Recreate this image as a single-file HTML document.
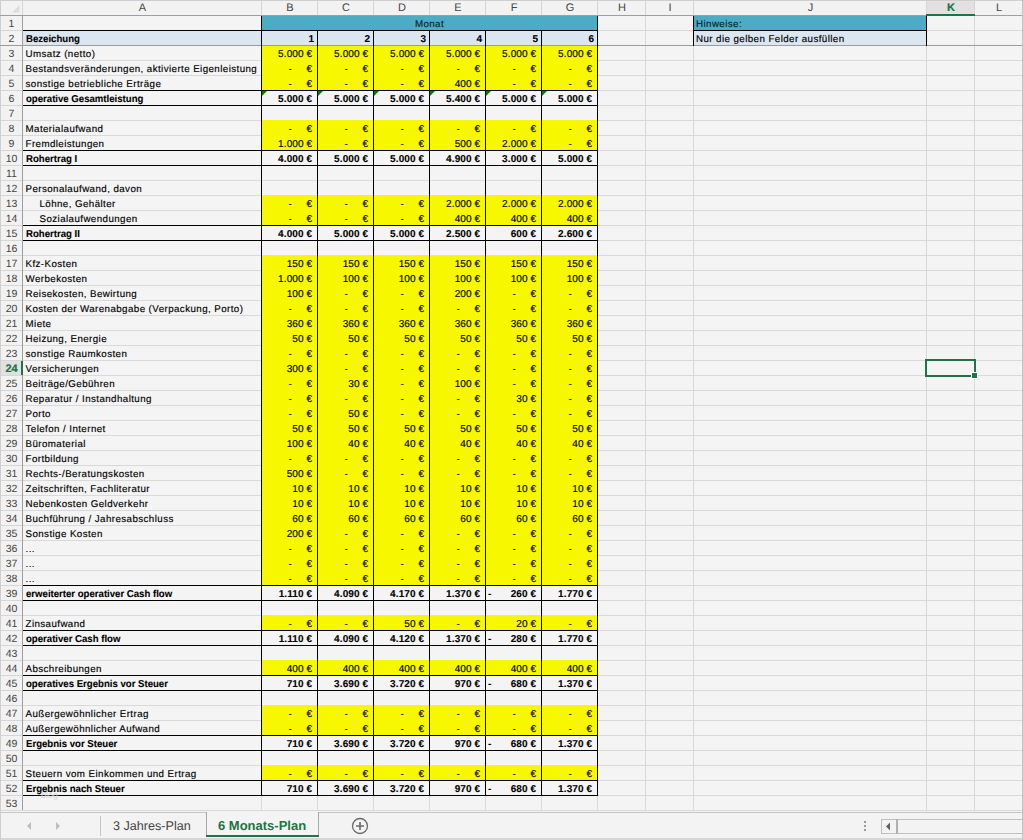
<!DOCTYPE html>
<html><head><meta charset="utf-8"><style>
html,body{margin:0;padding:0;width:1023px;height:840px;overflow:hidden;background:#f4f4f4}
div,span,svg{position:absolute}
span{white-space:nowrap;text-rendering:geometricPrecision;font-family:"Liberation Sans",sans-serif;line-height:15px;height:15px;color:#000}
.l,.n,.navy,.c{-webkit-text-stroke:0.15px currentColor}
.b{-webkit-text-stroke:0.1px currentColor}
.l{font-size:9.75px;letter-spacing:0.42px}
.l.b{font-size:10px;letter-spacing:0;font-weight:bold;transform:scaleX(0.96);transform-origin:0 0}
.n{font-size:10px;letter-spacing:0.1px}
.n.b{font-weight:bold}
.navy{color:#0b2333;font-size:9.75px;letter-spacing:0.42px}
.c{font-size:9.75px;letter-spacing:0.42px}
.hd{font-size:11px;color:#444;text-align:center;line-height:14px}
.rh{font-size:10.5px;color:#444;text-align:center;line-height:14px}
.sel{color:#217346;font-weight:bold;-webkit-text-stroke:0.2px #217346}
.rh.sel{font-size:11px}
.tab{font-size:12.6px;color:#444;line-height:22px;height:22px}
.tab.act{color:#217346;font-weight:bold;font-size:13px}
</style></head><body>
<div style="left:0px;top:0px;width:1023px;height:840px;background:#f4f4f4;"></div>
<div style="left:0px;top:0px;width:1023px;height:15px;background:#f2f2f2;"></div>
<div style="left:0px;top:0px;width:22px;height:810px;background:#f2f2f2;"></div>
<div style="left:0px;top:0px;width:1023px;height:1px;background:#cfcfcf;"></div>
<div style="left:0px;top:0px;width:1px;height:810px;background:#cfcfcf;"></div>
<div style="left:22px;top:30px;width:1000px;height:1px;background:#d9d9d9;"></div>
<div style="left:22px;top:45px;width:1000px;height:1px;background:#d9d9d9;"></div>
<div style="left:22px;top:60px;width:1000px;height:1px;background:#d9d9d9;"></div>
<div style="left:22px;top:75px;width:1000px;height:1px;background:#d9d9d9;"></div>
<div style="left:22px;top:90px;width:1000px;height:1px;background:#d9d9d9;"></div>
<div style="left:22px;top:105px;width:1000px;height:1px;background:#d9d9d9;"></div>
<div style="left:22px;top:120px;width:1000px;height:1px;background:#d9d9d9;"></div>
<div style="left:22px;top:135px;width:1000px;height:1px;background:#d9d9d9;"></div>
<div style="left:22px;top:150px;width:1000px;height:1px;background:#d9d9d9;"></div>
<div style="left:22px;top:165px;width:1000px;height:1px;background:#d9d9d9;"></div>
<div style="left:22px;top:180px;width:1000px;height:1px;background:#d9d9d9;"></div>
<div style="left:22px;top:195px;width:1000px;height:1px;background:#d9d9d9;"></div>
<div style="left:22px;top:210px;width:1000px;height:1px;background:#d9d9d9;"></div>
<div style="left:22px;top:225px;width:1000px;height:1px;background:#d9d9d9;"></div>
<div style="left:22px;top:240px;width:1000px;height:1px;background:#d9d9d9;"></div>
<div style="left:22px;top:255px;width:1000px;height:1px;background:#d9d9d9;"></div>
<div style="left:22px;top:270px;width:1000px;height:1px;background:#d9d9d9;"></div>
<div style="left:22px;top:285px;width:1000px;height:1px;background:#d9d9d9;"></div>
<div style="left:22px;top:300px;width:1000px;height:1px;background:#d9d9d9;"></div>
<div style="left:22px;top:315px;width:1000px;height:1px;background:#d9d9d9;"></div>
<div style="left:22px;top:330px;width:1000px;height:1px;background:#d9d9d9;"></div>
<div style="left:22px;top:345px;width:1000px;height:1px;background:#d9d9d9;"></div>
<div style="left:22px;top:360px;width:1000px;height:1px;background:#d9d9d9;"></div>
<div style="left:22px;top:375px;width:1000px;height:1px;background:#d9d9d9;"></div>
<div style="left:22px;top:390px;width:1000px;height:1px;background:#d9d9d9;"></div>
<div style="left:22px;top:405px;width:1000px;height:1px;background:#d9d9d9;"></div>
<div style="left:22px;top:420px;width:1000px;height:1px;background:#d9d9d9;"></div>
<div style="left:22px;top:435px;width:1000px;height:1px;background:#d9d9d9;"></div>
<div style="left:22px;top:450px;width:1000px;height:1px;background:#d9d9d9;"></div>
<div style="left:22px;top:465px;width:1000px;height:1px;background:#d9d9d9;"></div>
<div style="left:22px;top:480px;width:1000px;height:1px;background:#d9d9d9;"></div>
<div style="left:22px;top:495px;width:1000px;height:1px;background:#d9d9d9;"></div>
<div style="left:22px;top:510px;width:1000px;height:1px;background:#d9d9d9;"></div>
<div style="left:22px;top:525px;width:1000px;height:1px;background:#d9d9d9;"></div>
<div style="left:22px;top:540px;width:1000px;height:1px;background:#d9d9d9;"></div>
<div style="left:22px;top:555px;width:1000px;height:1px;background:#d9d9d9;"></div>
<div style="left:22px;top:570px;width:1000px;height:1px;background:#d9d9d9;"></div>
<div style="left:22px;top:585px;width:1000px;height:1px;background:#d9d9d9;"></div>
<div style="left:22px;top:600px;width:1000px;height:1px;background:#d9d9d9;"></div>
<div style="left:22px;top:615px;width:1000px;height:1px;background:#d9d9d9;"></div>
<div style="left:22px;top:630px;width:1000px;height:1px;background:#d9d9d9;"></div>
<div style="left:22px;top:645px;width:1000px;height:1px;background:#d9d9d9;"></div>
<div style="left:22px;top:660px;width:1000px;height:1px;background:#d9d9d9;"></div>
<div style="left:22px;top:675px;width:1000px;height:1px;background:#d9d9d9;"></div>
<div style="left:22px;top:690px;width:1000px;height:1px;background:#d9d9d9;"></div>
<div style="left:22px;top:705px;width:1000px;height:1px;background:#d9d9d9;"></div>
<div style="left:22px;top:720px;width:1000px;height:1px;background:#d9d9d9;"></div>
<div style="left:22px;top:735px;width:1000px;height:1px;background:#d9d9d9;"></div>
<div style="left:22px;top:750px;width:1000px;height:1px;background:#d9d9d9;"></div>
<div style="left:22px;top:765px;width:1000px;height:1px;background:#d9d9d9;"></div>
<div style="left:22px;top:780px;width:1000px;height:1px;background:#d9d9d9;"></div>
<div style="left:22px;top:795px;width:1000px;height:1px;background:#d9d9d9;"></div>
<div style="left:22px;top:810px;width:1000px;height:1px;background:#d9d9d9;"></div>
<div style="left:261px;top:15px;width:1px;height:795px;background:#d9d9d9;"></div>
<div style="left:317px;top:15px;width:1px;height:795px;background:#d9d9d9;"></div>
<div style="left:373px;top:15px;width:1px;height:795px;background:#d9d9d9;"></div>
<div style="left:429px;top:15px;width:1px;height:795px;background:#d9d9d9;"></div>
<div style="left:485px;top:15px;width:1px;height:795px;background:#d9d9d9;"></div>
<div style="left:541px;top:15px;width:1px;height:795px;background:#d9d9d9;"></div>
<div style="left:597px;top:15px;width:1px;height:795px;background:#d9d9d9;"></div>
<div style="left:645px;top:15px;width:1px;height:795px;background:#d9d9d9;"></div>
<div style="left:693px;top:15px;width:1px;height:795px;background:#d9d9d9;"></div>
<div style="left:926px;top:15px;width:1px;height:795px;background:#d9d9d9;"></div>
<div style="left:974px;top:15px;width:1px;height:795px;background:#d9d9d9;"></div>
<div style="left:262px;top:16px;width:335px;height:14px;background:#4bacc6;"></div>
<div style="left:694px;top:16px;width:232px;height:14px;background:#4bacc6;"></div>
<div style="left:23px;top:31px;width:574px;height:14px;background:#dce6f1;"></div>
<div style="left:694px;top:31px;width:232px;height:14px;background:#dce6f1;"></div>
<div style="left:262px;top:45px;width:335px;height:15px;background:#f7f700;"></div>
<div style="left:262px;top:60px;width:335px;height:15px;background:#f7f700;"></div>
<div style="left:262px;top:75px;width:335px;height:15px;background:#f7f700;"></div>
<div style="left:262px;top:120px;width:335px;height:15px;background:#f7f700;"></div>
<div style="left:262px;top:135px;width:335px;height:15px;background:#f7f700;"></div>
<div style="left:262px;top:195px;width:335px;height:15px;background:#f7f700;"></div>
<div style="left:262px;top:210px;width:335px;height:15px;background:#f7f700;"></div>
<div style="left:262px;top:255px;width:335px;height:15px;background:#f7f700;"></div>
<div style="left:262px;top:270px;width:335px;height:15px;background:#f7f700;"></div>
<div style="left:262px;top:285px;width:335px;height:15px;background:#f7f700;"></div>
<div style="left:262px;top:300px;width:335px;height:15px;background:#f7f700;"></div>
<div style="left:262px;top:315px;width:335px;height:15px;background:#f7f700;"></div>
<div style="left:262px;top:330px;width:335px;height:15px;background:#f7f700;"></div>
<div style="left:262px;top:345px;width:335px;height:15px;background:#f7f700;"></div>
<div style="left:262px;top:360px;width:335px;height:15px;background:#f7f700;"></div>
<div style="left:262px;top:375px;width:335px;height:15px;background:#f7f700;"></div>
<div style="left:262px;top:390px;width:335px;height:15px;background:#f7f700;"></div>
<div style="left:262px;top:405px;width:335px;height:15px;background:#f7f700;"></div>
<div style="left:262px;top:420px;width:335px;height:15px;background:#f7f700;"></div>
<div style="left:262px;top:435px;width:335px;height:15px;background:#f7f700;"></div>
<div style="left:262px;top:450px;width:335px;height:15px;background:#f7f700;"></div>
<div style="left:262px;top:465px;width:335px;height:15px;background:#f7f700;"></div>
<div style="left:262px;top:480px;width:335px;height:15px;background:#f7f700;"></div>
<div style="left:262px;top:495px;width:335px;height:15px;background:#f7f700;"></div>
<div style="left:262px;top:510px;width:335px;height:15px;background:#f7f700;"></div>
<div style="left:262px;top:525px;width:335px;height:15px;background:#f7f700;"></div>
<div style="left:262px;top:540px;width:335px;height:15px;background:#f7f700;"></div>
<div style="left:262px;top:555px;width:335px;height:15px;background:#f7f700;"></div>
<div style="left:262px;top:570px;width:335px;height:15px;background:#f7f700;"></div>
<div style="left:262px;top:615px;width:335px;height:15px;background:#f7f700;"></div>
<div style="left:262px;top:660px;width:335px;height:15px;background:#f7f700;"></div>
<div style="left:262px;top:705px;width:335px;height:15px;background:#f7f700;"></div>
<div style="left:262px;top:720px;width:335px;height:15px;background:#f7f700;"></div>
<div style="left:262px;top:765px;width:335px;height:15px;background:#f7f700;"></div>
<div style="left:0px;top:45px;width:1022px;height:1px;background:#9c9c9c;"></div>
<div style="left:261px;top:16px;width:1px;height:780px;background:#000;"></div>
<div style="left:317px;top:31px;width:1px;height:765px;background:#000;"></div>
<div style="left:373px;top:31px;width:1px;height:765px;background:#000;"></div>
<div style="left:429px;top:31px;width:1px;height:765px;background:#000;"></div>
<div style="left:485px;top:31px;width:1px;height:765px;background:#000;"></div>
<div style="left:541px;top:31px;width:1px;height:765px;background:#000;"></div>
<div style="left:597px;top:16px;width:1px;height:780px;background:#000;"></div>
<div style="left:693px;top:16px;width:1px;height:30px;background:#000;"></div>
<div style="left:926px;top:16px;width:1px;height:30px;background:#000;"></div>
<div style="left:693px;top:30px;width:234px;height:1px;background:#000;"></div>
<div style="left:22px;top:30px;width:576px;height:1px;background:#000;"></div>
<div style="left:22px;top:90px;width:576px;height:1px;background:#000;"></div>
<div style="left:22px;top:105px;width:576px;height:1px;background:#000;"></div>
<div style="left:22px;top:150px;width:576px;height:1px;background:#000;"></div>
<div style="left:22px;top:165px;width:576px;height:1px;background:#000;"></div>
<div style="left:22px;top:225px;width:576px;height:1px;background:#000;"></div>
<div style="left:22px;top:240px;width:576px;height:1px;background:#000;"></div>
<div style="left:22px;top:585px;width:576px;height:1px;background:#000;"></div>
<div style="left:22px;top:600px;width:576px;height:1px;background:#000;"></div>
<div style="left:22px;top:630px;width:576px;height:1px;background:#000;"></div>
<div style="left:22px;top:645px;width:576px;height:1px;background:#000;"></div>
<div style="left:22px;top:675px;width:576px;height:1px;background:#000;"></div>
<div style="left:22px;top:690px;width:576px;height:1px;background:#000;"></div>
<div style="left:22px;top:735px;width:576px;height:1px;background:#000;"></div>
<div style="left:22px;top:750px;width:576px;height:1px;background:#000;"></div>
<div style="left:22px;top:780px;width:576px;height:1px;background:#000;"></div>
<div style="left:22px;top:795px;width:576px;height:1px;background:#000;"></div>
<span class="hd" style="left:23px;top:1px;width:239px">A</span>
<div style="left:261px;top:1px;width:1px;height:14px;background:#d6d6d6;"></div>
<span class="hd" style="left:262px;top:1px;width:56px">B</span>
<div style="left:317px;top:1px;width:1px;height:14px;background:#d6d6d6;"></div>
<span class="hd" style="left:318px;top:1px;width:56px">C</span>
<div style="left:373px;top:1px;width:1px;height:14px;background:#d6d6d6;"></div>
<span class="hd" style="left:374px;top:1px;width:56px">D</span>
<div style="left:429px;top:1px;width:1px;height:14px;background:#d6d6d6;"></div>
<span class="hd" style="left:430px;top:1px;width:56px">E</span>
<div style="left:485px;top:1px;width:1px;height:14px;background:#d6d6d6;"></div>
<span class="hd" style="left:486px;top:1px;width:56px">F</span>
<div style="left:541px;top:1px;width:1px;height:14px;background:#d6d6d6;"></div>
<span class="hd" style="left:542px;top:1px;width:56px">G</span>
<div style="left:597px;top:1px;width:1px;height:14px;background:#d6d6d6;"></div>
<span class="hd" style="left:598px;top:1px;width:48px">H</span>
<div style="left:645px;top:1px;width:1px;height:14px;background:#d6d6d6;"></div>
<span class="hd" style="left:646px;top:1px;width:48px">I</span>
<div style="left:693px;top:1px;width:1px;height:14px;background:#d6d6d6;"></div>
<span class="hd" style="left:694px;top:1px;width:233px">J</span>
<div style="left:926px;top:1px;width:1px;height:14px;background:#d6d6d6;"></div>
<div style="left:927px;top:1px;width:47px;height:14px;background:#e1e1e1;"></div>
<div style="left:926px;top:14px;width:49px;height:2px;background:#217346;"></div>
<span class="hd sel" style="left:927px;top:1px;width:48px">K</span>
<div style="left:974px;top:1px;width:1px;height:14px;background:#d6d6d6;"></div>
<span class="hd" style="left:975px;top:1px;width:48px">L</span>
<div style="left:1022px;top:1px;width:1px;height:14px;background:#d6d6d6;"></div>
<svg style="position:absolute;left:0;top:0" width="22" height="15"><polygon points="19.5,5 19.5,12.5 12,12.5" fill="#dcdcdc"/></svg>
<div style="left:0px;top:15px;width:1022px;height:1px;background:#9e9e9e;"></div>
<div style="left:22px;top:15px;width:1px;height:795px;background:#9e9e9e;"></div>
<div style="left:926px;top:14px;width:49px;height:2px;background:#217346;"></div>
<div style="left:22px;top:1px;width:1px;height:14px;background:#d6d6d6;"></div>
<div style="left:1px;top:30px;width:21px;height:1px;background:#d6d6d6;"></div>
<span class="rh" style="left:1px;top:17px;width:21px">1</span>
<span class="rh" style="left:1px;top:32px;width:21px">2</span>
<div style="left:1px;top:60px;width:21px;height:1px;background:#d6d6d6;"></div>
<span class="rh" style="left:1px;top:47px;width:21px">3</span>
<div style="left:1px;top:75px;width:21px;height:1px;background:#d6d6d6;"></div>
<span class="rh" style="left:1px;top:62px;width:21px">4</span>
<div style="left:1px;top:90px;width:21px;height:1px;background:#d6d6d6;"></div>
<span class="rh" style="left:1px;top:77px;width:21px">5</span>
<div style="left:1px;top:105px;width:21px;height:1px;background:#d6d6d6;"></div>
<span class="rh" style="left:1px;top:92px;width:21px">6</span>
<div style="left:1px;top:120px;width:21px;height:1px;background:#d6d6d6;"></div>
<span class="rh" style="left:1px;top:107px;width:21px">7</span>
<div style="left:1px;top:135px;width:21px;height:1px;background:#d6d6d6;"></div>
<span class="rh" style="left:1px;top:122px;width:21px">8</span>
<div style="left:1px;top:150px;width:21px;height:1px;background:#d6d6d6;"></div>
<span class="rh" style="left:1px;top:137px;width:21px">9</span>
<div style="left:1px;top:165px;width:21px;height:1px;background:#d6d6d6;"></div>
<span class="rh" style="left:1px;top:152px;width:21px">10</span>
<div style="left:1px;top:180px;width:21px;height:1px;background:#d6d6d6;"></div>
<span class="rh" style="left:1px;top:167px;width:21px">11</span>
<div style="left:1px;top:195px;width:21px;height:1px;background:#d6d6d6;"></div>
<span class="rh" style="left:1px;top:182px;width:21px">12</span>
<div style="left:1px;top:210px;width:21px;height:1px;background:#d6d6d6;"></div>
<span class="rh" style="left:1px;top:197px;width:21px">13</span>
<div style="left:1px;top:225px;width:21px;height:1px;background:#d6d6d6;"></div>
<span class="rh" style="left:1px;top:212px;width:21px">14</span>
<div style="left:1px;top:240px;width:21px;height:1px;background:#d6d6d6;"></div>
<span class="rh" style="left:1px;top:227px;width:21px">15</span>
<div style="left:1px;top:255px;width:21px;height:1px;background:#d6d6d6;"></div>
<span class="rh" style="left:1px;top:242px;width:21px">16</span>
<div style="left:1px;top:270px;width:21px;height:1px;background:#d6d6d6;"></div>
<span class="rh" style="left:1px;top:257px;width:21px">17</span>
<div style="left:1px;top:285px;width:21px;height:1px;background:#d6d6d6;"></div>
<span class="rh" style="left:1px;top:272px;width:21px">18</span>
<div style="left:1px;top:300px;width:21px;height:1px;background:#d6d6d6;"></div>
<span class="rh" style="left:1px;top:287px;width:21px">19</span>
<div style="left:1px;top:315px;width:21px;height:1px;background:#d6d6d6;"></div>
<span class="rh" style="left:1px;top:302px;width:21px">20</span>
<div style="left:1px;top:330px;width:21px;height:1px;background:#d6d6d6;"></div>
<span class="rh" style="left:1px;top:317px;width:21px">21</span>
<div style="left:1px;top:345px;width:21px;height:1px;background:#d6d6d6;"></div>
<span class="rh" style="left:1px;top:332px;width:21px">22</span>
<div style="left:1px;top:360px;width:21px;height:1px;background:#d6d6d6;"></div>
<span class="rh" style="left:1px;top:347px;width:21px">23</span>
<div style="left:1px;top:375px;width:21px;height:1px;background:#d6d6d6;"></div>
<div style="left:1px;top:361px;width:21px;height:14px;background:#e1e1e1;"></div>
<div style="left:21px;top:361px;width:2px;height:14px;background:#217346;"></div>
<span class="rh sel" style="left:0.5px;top:362px;width:22px">24</span>
<div style="left:1px;top:390px;width:21px;height:1px;background:#d6d6d6;"></div>
<span class="rh" style="left:1px;top:377px;width:21px">25</span>
<div style="left:1px;top:405px;width:21px;height:1px;background:#d6d6d6;"></div>
<span class="rh" style="left:1px;top:392px;width:21px">26</span>
<div style="left:1px;top:420px;width:21px;height:1px;background:#d6d6d6;"></div>
<span class="rh" style="left:1px;top:407px;width:21px">27</span>
<div style="left:1px;top:435px;width:21px;height:1px;background:#d6d6d6;"></div>
<span class="rh" style="left:1px;top:422px;width:21px">28</span>
<div style="left:1px;top:450px;width:21px;height:1px;background:#d6d6d6;"></div>
<span class="rh" style="left:1px;top:437px;width:21px">29</span>
<div style="left:1px;top:465px;width:21px;height:1px;background:#d6d6d6;"></div>
<span class="rh" style="left:1px;top:452px;width:21px">30</span>
<div style="left:1px;top:480px;width:21px;height:1px;background:#d6d6d6;"></div>
<span class="rh" style="left:1px;top:467px;width:21px">31</span>
<div style="left:1px;top:495px;width:21px;height:1px;background:#d6d6d6;"></div>
<span class="rh" style="left:1px;top:482px;width:21px">32</span>
<div style="left:1px;top:510px;width:21px;height:1px;background:#d6d6d6;"></div>
<span class="rh" style="left:1px;top:497px;width:21px">33</span>
<div style="left:1px;top:525px;width:21px;height:1px;background:#d6d6d6;"></div>
<span class="rh" style="left:1px;top:512px;width:21px">34</span>
<div style="left:1px;top:540px;width:21px;height:1px;background:#d6d6d6;"></div>
<span class="rh" style="left:1px;top:527px;width:21px">35</span>
<div style="left:1px;top:555px;width:21px;height:1px;background:#d6d6d6;"></div>
<span class="rh" style="left:1px;top:542px;width:21px">36</span>
<div style="left:1px;top:570px;width:21px;height:1px;background:#d6d6d6;"></div>
<span class="rh" style="left:1px;top:557px;width:21px">37</span>
<div style="left:1px;top:585px;width:21px;height:1px;background:#d6d6d6;"></div>
<span class="rh" style="left:1px;top:572px;width:21px">38</span>
<div style="left:1px;top:600px;width:21px;height:1px;background:#d6d6d6;"></div>
<span class="rh" style="left:1px;top:587px;width:21px">39</span>
<div style="left:1px;top:615px;width:21px;height:1px;background:#d6d6d6;"></div>
<span class="rh" style="left:1px;top:602px;width:21px">40</span>
<div style="left:1px;top:630px;width:21px;height:1px;background:#d6d6d6;"></div>
<span class="rh" style="left:1px;top:617px;width:21px">41</span>
<div style="left:1px;top:645px;width:21px;height:1px;background:#d6d6d6;"></div>
<span class="rh" style="left:1px;top:632px;width:21px">42</span>
<div style="left:1px;top:660px;width:21px;height:1px;background:#d6d6d6;"></div>
<span class="rh" style="left:1px;top:647px;width:21px">43</span>
<div style="left:1px;top:675px;width:21px;height:1px;background:#d6d6d6;"></div>
<span class="rh" style="left:1px;top:662px;width:21px">44</span>
<div style="left:1px;top:690px;width:21px;height:1px;background:#d6d6d6;"></div>
<span class="rh" style="left:1px;top:677px;width:21px">45</span>
<div style="left:1px;top:705px;width:21px;height:1px;background:#d6d6d6;"></div>
<span class="rh" style="left:1px;top:692px;width:21px">46</span>
<div style="left:1px;top:720px;width:21px;height:1px;background:#d6d6d6;"></div>
<span class="rh" style="left:1px;top:707px;width:21px">47</span>
<div style="left:1px;top:735px;width:21px;height:1px;background:#d6d6d6;"></div>
<span class="rh" style="left:1px;top:722px;width:21px">48</span>
<div style="left:1px;top:750px;width:21px;height:1px;background:#d6d6d6;"></div>
<span class="rh" style="left:1px;top:737px;width:21px">49</span>
<div style="left:1px;top:765px;width:21px;height:1px;background:#d6d6d6;"></div>
<span class="rh" style="left:1px;top:752px;width:21px">50</span>
<div style="left:1px;top:780px;width:21px;height:1px;background:#d6d6d6;"></div>
<span class="rh" style="left:1px;top:767px;width:21px">51</span>
<div style="left:1px;top:795px;width:21px;height:1px;background:#d6d6d6;"></div>
<span class="rh" style="left:1px;top:782px;width:21px">52</span>
<div style="left:1px;top:810px;width:21px;height:1px;background:#d6d6d6;"></div>
<span class="rh" style="left:1px;top:797px;width:21px">53</span>
<span class="c navy" style="left:262px;top:17px;width:335px;text-align:center">Monat</span>
<span class="l navy" style="left:696px;top:17px;">Hinweise:</span>
<span class="l" style="left:696px;top:32px;">Nur die gelben Felder ausfüllen</span>
<span class="l b" style="left:25.5px;top:32px;">Bezeichung</span>
<span class="n b" style="left:261px;top:32px;width:53.1px;text-align:right">1</span>
<span class="n b" style="left:317px;top:32px;width:53.1px;text-align:right">2</span>
<span class="n b" style="left:373px;top:32px;width:53.1px;text-align:right">3</span>
<span class="n b" style="left:429px;top:32px;width:53.1px;text-align:right">4</span>
<span class="n b" style="left:485px;top:32px;width:53.1px;text-align:right">5</span>
<span class="n b" style="left:541px;top:32px;width:53.1px;text-align:right">6</span>
<span class="l" style="left:25.5px;top:47px;">Umsatz (netto)</span>
<span class="n" style="left:261px;top:47px;width:51.1px;text-align:right">5.000<span style="position:static;letter-spacing:0">&nbsp;</span>€</span>
<span class="n" style="left:317px;top:47px;width:51.1px;text-align:right">5.000<span style="position:static;letter-spacing:0">&nbsp;</span>€</span>
<span class="n" style="left:373px;top:47px;width:51.1px;text-align:right">5.000<span style="position:static;letter-spacing:0">&nbsp;</span>€</span>
<span class="n" style="left:429px;top:47px;width:51.1px;text-align:right">5.000<span style="position:static;letter-spacing:0">&nbsp;</span>€</span>
<span class="n" style="left:485px;top:47px;width:51.1px;text-align:right">5.000<span style="position:static;letter-spacing:0">&nbsp;</span>€</span>
<span class="n" style="left:541px;top:47px;width:51.1px;text-align:right">5.000<span style="position:static;letter-spacing:0">&nbsp;</span>€</span>
<span class="l" style="left:25.5px;top:62px;">Bestandsveränderungen, aktivierte Eigenleistung</span>
<span class="n" style="left:261px;top:62px;width:51.1px;text-align:right">€</span>
<span class="n" style="left:261px;top:62px;width:31px;text-align:right">-</span>
<span class="n" style="left:317px;top:62px;width:51.1px;text-align:right">€</span>
<span class="n" style="left:317px;top:62px;width:31px;text-align:right">-</span>
<span class="n" style="left:373px;top:62px;width:51.1px;text-align:right">€</span>
<span class="n" style="left:373px;top:62px;width:31px;text-align:right">-</span>
<span class="n" style="left:429px;top:62px;width:51.1px;text-align:right">€</span>
<span class="n" style="left:429px;top:62px;width:31px;text-align:right">-</span>
<span class="n" style="left:485px;top:62px;width:51.1px;text-align:right">€</span>
<span class="n" style="left:485px;top:62px;width:31px;text-align:right">-</span>
<span class="n" style="left:541px;top:62px;width:51.1px;text-align:right">€</span>
<span class="n" style="left:541px;top:62px;width:31px;text-align:right">-</span>
<span class="l" style="left:25.5px;top:77px;">sonstige betriebliche Erträge</span>
<span class="n" style="left:261px;top:77px;width:51.1px;text-align:right">€</span>
<span class="n" style="left:261px;top:77px;width:31px;text-align:right">-</span>
<span class="n" style="left:317px;top:77px;width:51.1px;text-align:right">€</span>
<span class="n" style="left:317px;top:77px;width:31px;text-align:right">-</span>
<span class="n" style="left:373px;top:77px;width:51.1px;text-align:right">€</span>
<span class="n" style="left:373px;top:77px;width:31px;text-align:right">-</span>
<span class="n" style="left:429px;top:77px;width:51.1px;text-align:right">400<span style="position:static;letter-spacing:0">&nbsp;</span>€</span>
<span class="n" style="left:485px;top:77px;width:51.1px;text-align:right">€</span>
<span class="n" style="left:485px;top:77px;width:31px;text-align:right">-</span>
<span class="n" style="left:541px;top:77px;width:51.1px;text-align:right">€</span>
<span class="n" style="left:541px;top:77px;width:31px;text-align:right">-</span>
<span class="l b" style="left:25.5px;top:92px;">operative Gesamtleistung</span>
<span class="n b" style="left:261px;top:92px;width:51.1px;text-align:right">5.000<span style="position:static;letter-spacing:0">&nbsp;</span>€</span>
<span class="n b" style="left:317px;top:92px;width:51.1px;text-align:right">5.000<span style="position:static;letter-spacing:0">&nbsp;</span>€</span>
<span class="n b" style="left:373px;top:92px;width:51.1px;text-align:right">5.000<span style="position:static;letter-spacing:0">&nbsp;</span>€</span>
<span class="n b" style="left:429px;top:92px;width:51.1px;text-align:right">5.400<span style="position:static;letter-spacing:0">&nbsp;</span>€</span>
<span class="n b" style="left:485px;top:92px;width:51.1px;text-align:right">5.000<span style="position:static;letter-spacing:0">&nbsp;</span>€</span>
<span class="n b" style="left:541px;top:92px;width:51.1px;text-align:right">5.000<span style="position:static;letter-spacing:0">&nbsp;</span>€</span>
<span class="l" style="left:25.5px;top:122px;">Materialaufwand</span>
<span class="n" style="left:261px;top:122px;width:51.1px;text-align:right">€</span>
<span class="n" style="left:261px;top:122px;width:31px;text-align:right">-</span>
<span class="n" style="left:317px;top:122px;width:51.1px;text-align:right">€</span>
<span class="n" style="left:317px;top:122px;width:31px;text-align:right">-</span>
<span class="n" style="left:373px;top:122px;width:51.1px;text-align:right">€</span>
<span class="n" style="left:373px;top:122px;width:31px;text-align:right">-</span>
<span class="n" style="left:429px;top:122px;width:51.1px;text-align:right">€</span>
<span class="n" style="left:429px;top:122px;width:31px;text-align:right">-</span>
<span class="n" style="left:485px;top:122px;width:51.1px;text-align:right">€</span>
<span class="n" style="left:485px;top:122px;width:31px;text-align:right">-</span>
<span class="n" style="left:541px;top:122px;width:51.1px;text-align:right">€</span>
<span class="n" style="left:541px;top:122px;width:31px;text-align:right">-</span>
<span class="l" style="left:25.5px;top:137px;">Fremdleistungen</span>
<span class="n" style="left:261px;top:137px;width:51.1px;text-align:right">1.000<span style="position:static;letter-spacing:0">&nbsp;</span>€</span>
<span class="n" style="left:317px;top:137px;width:51.1px;text-align:right">€</span>
<span class="n" style="left:317px;top:137px;width:31px;text-align:right">-</span>
<span class="n" style="left:373px;top:137px;width:51.1px;text-align:right">€</span>
<span class="n" style="left:373px;top:137px;width:31px;text-align:right">-</span>
<span class="n" style="left:429px;top:137px;width:51.1px;text-align:right">500<span style="position:static;letter-spacing:0">&nbsp;</span>€</span>
<span class="n" style="left:485px;top:137px;width:51.1px;text-align:right">2.000<span style="position:static;letter-spacing:0">&nbsp;</span>€</span>
<span class="n" style="left:541px;top:137px;width:51.1px;text-align:right">€</span>
<span class="n" style="left:541px;top:137px;width:31px;text-align:right">-</span>
<span class="l b" style="left:25.5px;top:152px;">Rohertrag I</span>
<span class="n b" style="left:261px;top:152px;width:51.1px;text-align:right">4.000<span style="position:static;letter-spacing:0">&nbsp;</span>€</span>
<span class="n b" style="left:317px;top:152px;width:51.1px;text-align:right">5.000<span style="position:static;letter-spacing:0">&nbsp;</span>€</span>
<span class="n b" style="left:373px;top:152px;width:51.1px;text-align:right">5.000<span style="position:static;letter-spacing:0">&nbsp;</span>€</span>
<span class="n b" style="left:429px;top:152px;width:51.1px;text-align:right">4.900<span style="position:static;letter-spacing:0">&nbsp;</span>€</span>
<span class="n b" style="left:485px;top:152px;width:51.1px;text-align:right">3.000<span style="position:static;letter-spacing:0">&nbsp;</span>€</span>
<span class="n b" style="left:541px;top:152px;width:51.1px;text-align:right">5.000<span style="position:static;letter-spacing:0">&nbsp;</span>€</span>
<span class="l" style="left:25.5px;top:182px;">Personalaufwand, davon</span>
<span class="l" style="left:39.5px;top:197px;">Löhne, Gehälter</span>
<span class="n" style="left:261px;top:197px;width:51.1px;text-align:right">€</span>
<span class="n" style="left:261px;top:197px;width:31px;text-align:right">-</span>
<span class="n" style="left:317px;top:197px;width:51.1px;text-align:right">€</span>
<span class="n" style="left:317px;top:197px;width:31px;text-align:right">-</span>
<span class="n" style="left:373px;top:197px;width:51.1px;text-align:right">€</span>
<span class="n" style="left:373px;top:197px;width:31px;text-align:right">-</span>
<span class="n" style="left:429px;top:197px;width:51.1px;text-align:right">2.000<span style="position:static;letter-spacing:0">&nbsp;</span>€</span>
<span class="n" style="left:485px;top:197px;width:51.1px;text-align:right">2.000<span style="position:static;letter-spacing:0">&nbsp;</span>€</span>
<span class="n" style="left:541px;top:197px;width:51.1px;text-align:right">2.000<span style="position:static;letter-spacing:0">&nbsp;</span>€</span>
<span class="l" style="left:39.5px;top:212px;">Sozialaufwendungen</span>
<span class="n" style="left:261px;top:212px;width:51.1px;text-align:right">€</span>
<span class="n" style="left:261px;top:212px;width:31px;text-align:right">-</span>
<span class="n" style="left:317px;top:212px;width:51.1px;text-align:right">€</span>
<span class="n" style="left:317px;top:212px;width:31px;text-align:right">-</span>
<span class="n" style="left:373px;top:212px;width:51.1px;text-align:right">€</span>
<span class="n" style="left:373px;top:212px;width:31px;text-align:right">-</span>
<span class="n" style="left:429px;top:212px;width:51.1px;text-align:right">400<span style="position:static;letter-spacing:0">&nbsp;</span>€</span>
<span class="n" style="left:485px;top:212px;width:51.1px;text-align:right">400<span style="position:static;letter-spacing:0">&nbsp;</span>€</span>
<span class="n" style="left:541px;top:212px;width:51.1px;text-align:right">400<span style="position:static;letter-spacing:0">&nbsp;</span>€</span>
<span class="l b" style="left:25.5px;top:227px;">Rohertrag II</span>
<span class="n b" style="left:261px;top:227px;width:51.1px;text-align:right">4.000<span style="position:static;letter-spacing:0">&nbsp;</span>€</span>
<span class="n b" style="left:317px;top:227px;width:51.1px;text-align:right">5.000<span style="position:static;letter-spacing:0">&nbsp;</span>€</span>
<span class="n b" style="left:373px;top:227px;width:51.1px;text-align:right">5.000<span style="position:static;letter-spacing:0">&nbsp;</span>€</span>
<span class="n b" style="left:429px;top:227px;width:51.1px;text-align:right">2.500<span style="position:static;letter-spacing:0">&nbsp;</span>€</span>
<span class="n b" style="left:485px;top:227px;width:51.1px;text-align:right">600<span style="position:static;letter-spacing:0">&nbsp;</span>€</span>
<span class="n b" style="left:541px;top:227px;width:51.1px;text-align:right">2.600<span style="position:static;letter-spacing:0">&nbsp;</span>€</span>
<span class="l" style="left:25.5px;top:257px;">Kfz-Kosten</span>
<span class="n" style="left:261px;top:257px;width:51.1px;text-align:right">150<span style="position:static;letter-spacing:0">&nbsp;</span>€</span>
<span class="n" style="left:317px;top:257px;width:51.1px;text-align:right">150<span style="position:static;letter-spacing:0">&nbsp;</span>€</span>
<span class="n" style="left:373px;top:257px;width:51.1px;text-align:right">150<span style="position:static;letter-spacing:0">&nbsp;</span>€</span>
<span class="n" style="left:429px;top:257px;width:51.1px;text-align:right">150<span style="position:static;letter-spacing:0">&nbsp;</span>€</span>
<span class="n" style="left:485px;top:257px;width:51.1px;text-align:right">150<span style="position:static;letter-spacing:0">&nbsp;</span>€</span>
<span class="n" style="left:541px;top:257px;width:51.1px;text-align:right">150<span style="position:static;letter-spacing:0">&nbsp;</span>€</span>
<span class="l" style="left:25.5px;top:272px;">Werbekosten</span>
<span class="n" style="left:261px;top:272px;width:51.1px;text-align:right">1.000<span style="position:static;letter-spacing:0">&nbsp;</span>€</span>
<span class="n" style="left:317px;top:272px;width:51.1px;text-align:right">100<span style="position:static;letter-spacing:0">&nbsp;</span>€</span>
<span class="n" style="left:373px;top:272px;width:51.1px;text-align:right">100<span style="position:static;letter-spacing:0">&nbsp;</span>€</span>
<span class="n" style="left:429px;top:272px;width:51.1px;text-align:right">100<span style="position:static;letter-spacing:0">&nbsp;</span>€</span>
<span class="n" style="left:485px;top:272px;width:51.1px;text-align:right">100<span style="position:static;letter-spacing:0">&nbsp;</span>€</span>
<span class="n" style="left:541px;top:272px;width:51.1px;text-align:right">100<span style="position:static;letter-spacing:0">&nbsp;</span>€</span>
<span class="l" style="left:25.5px;top:287px;">Reisekosten, Bewirtung</span>
<span class="n" style="left:261px;top:287px;width:51.1px;text-align:right">100<span style="position:static;letter-spacing:0">&nbsp;</span>€</span>
<span class="n" style="left:317px;top:287px;width:51.1px;text-align:right">€</span>
<span class="n" style="left:317px;top:287px;width:31px;text-align:right">-</span>
<span class="n" style="left:373px;top:287px;width:51.1px;text-align:right">€</span>
<span class="n" style="left:373px;top:287px;width:31px;text-align:right">-</span>
<span class="n" style="left:429px;top:287px;width:51.1px;text-align:right">200<span style="position:static;letter-spacing:0">&nbsp;</span>€</span>
<span class="n" style="left:485px;top:287px;width:51.1px;text-align:right">€</span>
<span class="n" style="left:485px;top:287px;width:31px;text-align:right">-</span>
<span class="n" style="left:541px;top:287px;width:51.1px;text-align:right">€</span>
<span class="n" style="left:541px;top:287px;width:31px;text-align:right">-</span>
<span class="l" style="left:25.5px;top:302px;">Kosten der Warenabgabe (Verpackung, Porto)</span>
<span class="n" style="left:261px;top:302px;width:51.1px;text-align:right">€</span>
<span class="n" style="left:261px;top:302px;width:31px;text-align:right">-</span>
<span class="n" style="left:317px;top:302px;width:51.1px;text-align:right">€</span>
<span class="n" style="left:317px;top:302px;width:31px;text-align:right">-</span>
<span class="n" style="left:373px;top:302px;width:51.1px;text-align:right">€</span>
<span class="n" style="left:373px;top:302px;width:31px;text-align:right">-</span>
<span class="n" style="left:429px;top:302px;width:51.1px;text-align:right">€</span>
<span class="n" style="left:429px;top:302px;width:31px;text-align:right">-</span>
<span class="n" style="left:485px;top:302px;width:51.1px;text-align:right">€</span>
<span class="n" style="left:485px;top:302px;width:31px;text-align:right">-</span>
<span class="n" style="left:541px;top:302px;width:51.1px;text-align:right">€</span>
<span class="n" style="left:541px;top:302px;width:31px;text-align:right">-</span>
<span class="l" style="left:25.5px;top:317px;">Miete</span>
<span class="n" style="left:261px;top:317px;width:51.1px;text-align:right">360<span style="position:static;letter-spacing:0">&nbsp;</span>€</span>
<span class="n" style="left:317px;top:317px;width:51.1px;text-align:right">360<span style="position:static;letter-spacing:0">&nbsp;</span>€</span>
<span class="n" style="left:373px;top:317px;width:51.1px;text-align:right">360<span style="position:static;letter-spacing:0">&nbsp;</span>€</span>
<span class="n" style="left:429px;top:317px;width:51.1px;text-align:right">360<span style="position:static;letter-spacing:0">&nbsp;</span>€</span>
<span class="n" style="left:485px;top:317px;width:51.1px;text-align:right">360<span style="position:static;letter-spacing:0">&nbsp;</span>€</span>
<span class="n" style="left:541px;top:317px;width:51.1px;text-align:right">360<span style="position:static;letter-spacing:0">&nbsp;</span>€</span>
<span class="l" style="left:25.5px;top:332px;">Heizung, Energie</span>
<span class="n" style="left:261px;top:332px;width:51.1px;text-align:right">50<span style="position:static;letter-spacing:0">&nbsp;</span>€</span>
<span class="n" style="left:317px;top:332px;width:51.1px;text-align:right">50<span style="position:static;letter-spacing:0">&nbsp;</span>€</span>
<span class="n" style="left:373px;top:332px;width:51.1px;text-align:right">50<span style="position:static;letter-spacing:0">&nbsp;</span>€</span>
<span class="n" style="left:429px;top:332px;width:51.1px;text-align:right">50<span style="position:static;letter-spacing:0">&nbsp;</span>€</span>
<span class="n" style="left:485px;top:332px;width:51.1px;text-align:right">50<span style="position:static;letter-spacing:0">&nbsp;</span>€</span>
<span class="n" style="left:541px;top:332px;width:51.1px;text-align:right">50<span style="position:static;letter-spacing:0">&nbsp;</span>€</span>
<span class="l" style="left:25.5px;top:347px;">sonstige Raumkosten</span>
<span class="n" style="left:261px;top:347px;width:51.1px;text-align:right">€</span>
<span class="n" style="left:261px;top:347px;width:31px;text-align:right">-</span>
<span class="n" style="left:317px;top:347px;width:51.1px;text-align:right">€</span>
<span class="n" style="left:317px;top:347px;width:31px;text-align:right">-</span>
<span class="n" style="left:373px;top:347px;width:51.1px;text-align:right">€</span>
<span class="n" style="left:373px;top:347px;width:31px;text-align:right">-</span>
<span class="n" style="left:429px;top:347px;width:51.1px;text-align:right">€</span>
<span class="n" style="left:429px;top:347px;width:31px;text-align:right">-</span>
<span class="n" style="left:485px;top:347px;width:51.1px;text-align:right">€</span>
<span class="n" style="left:485px;top:347px;width:31px;text-align:right">-</span>
<span class="n" style="left:541px;top:347px;width:51.1px;text-align:right">€</span>
<span class="n" style="left:541px;top:347px;width:31px;text-align:right">-</span>
<span class="l" style="left:25.5px;top:362px;">Versicherungen</span>
<span class="n" style="left:261px;top:362px;width:51.1px;text-align:right">300<span style="position:static;letter-spacing:0">&nbsp;</span>€</span>
<span class="n" style="left:317px;top:362px;width:51.1px;text-align:right">€</span>
<span class="n" style="left:317px;top:362px;width:31px;text-align:right">-</span>
<span class="n" style="left:373px;top:362px;width:51.1px;text-align:right">€</span>
<span class="n" style="left:373px;top:362px;width:31px;text-align:right">-</span>
<span class="n" style="left:429px;top:362px;width:51.1px;text-align:right">€</span>
<span class="n" style="left:429px;top:362px;width:31px;text-align:right">-</span>
<span class="n" style="left:485px;top:362px;width:51.1px;text-align:right">€</span>
<span class="n" style="left:485px;top:362px;width:31px;text-align:right">-</span>
<span class="n" style="left:541px;top:362px;width:51.1px;text-align:right">€</span>
<span class="n" style="left:541px;top:362px;width:31px;text-align:right">-</span>
<span class="l" style="left:25.5px;top:377px;">Beiträge/Gebühren</span>
<span class="n" style="left:261px;top:377px;width:51.1px;text-align:right">€</span>
<span class="n" style="left:261px;top:377px;width:31px;text-align:right">-</span>
<span class="n" style="left:317px;top:377px;width:51.1px;text-align:right">30<span style="position:static;letter-spacing:0">&nbsp;</span>€</span>
<span class="n" style="left:373px;top:377px;width:51.1px;text-align:right">€</span>
<span class="n" style="left:373px;top:377px;width:31px;text-align:right">-</span>
<span class="n" style="left:429px;top:377px;width:51.1px;text-align:right">100<span style="position:static;letter-spacing:0">&nbsp;</span>€</span>
<span class="n" style="left:485px;top:377px;width:51.1px;text-align:right">€</span>
<span class="n" style="left:485px;top:377px;width:31px;text-align:right">-</span>
<span class="n" style="left:541px;top:377px;width:51.1px;text-align:right">€</span>
<span class="n" style="left:541px;top:377px;width:31px;text-align:right">-</span>
<span class="l" style="left:25.5px;top:392px;">Reparatur / Instandhaltung</span>
<span class="n" style="left:261px;top:392px;width:51.1px;text-align:right">€</span>
<span class="n" style="left:261px;top:392px;width:31px;text-align:right">-</span>
<span class="n" style="left:317px;top:392px;width:51.1px;text-align:right">€</span>
<span class="n" style="left:317px;top:392px;width:31px;text-align:right">-</span>
<span class="n" style="left:373px;top:392px;width:51.1px;text-align:right">€</span>
<span class="n" style="left:373px;top:392px;width:31px;text-align:right">-</span>
<span class="n" style="left:429px;top:392px;width:51.1px;text-align:right">€</span>
<span class="n" style="left:429px;top:392px;width:31px;text-align:right">-</span>
<span class="n" style="left:485px;top:392px;width:51.1px;text-align:right">30<span style="position:static;letter-spacing:0">&nbsp;</span>€</span>
<span class="n" style="left:541px;top:392px;width:51.1px;text-align:right">€</span>
<span class="n" style="left:541px;top:392px;width:31px;text-align:right">-</span>
<span class="l" style="left:25.5px;top:407px;">Porto</span>
<span class="n" style="left:261px;top:407px;width:51.1px;text-align:right">€</span>
<span class="n" style="left:261px;top:407px;width:31px;text-align:right">-</span>
<span class="n" style="left:317px;top:407px;width:51.1px;text-align:right">50<span style="position:static;letter-spacing:0">&nbsp;</span>€</span>
<span class="n" style="left:373px;top:407px;width:51.1px;text-align:right">€</span>
<span class="n" style="left:373px;top:407px;width:31px;text-align:right">-</span>
<span class="n" style="left:429px;top:407px;width:51.1px;text-align:right">€</span>
<span class="n" style="left:429px;top:407px;width:31px;text-align:right">-</span>
<span class="n" style="left:485px;top:407px;width:51.1px;text-align:right">€</span>
<span class="n" style="left:485px;top:407px;width:31px;text-align:right">-</span>
<span class="n" style="left:541px;top:407px;width:51.1px;text-align:right">€</span>
<span class="n" style="left:541px;top:407px;width:31px;text-align:right">-</span>
<span class="l" style="left:25.5px;top:422px;">Telefon / Internet</span>
<span class="n" style="left:261px;top:422px;width:51.1px;text-align:right">50<span style="position:static;letter-spacing:0">&nbsp;</span>€</span>
<span class="n" style="left:317px;top:422px;width:51.1px;text-align:right">50<span style="position:static;letter-spacing:0">&nbsp;</span>€</span>
<span class="n" style="left:373px;top:422px;width:51.1px;text-align:right">50<span style="position:static;letter-spacing:0">&nbsp;</span>€</span>
<span class="n" style="left:429px;top:422px;width:51.1px;text-align:right">50<span style="position:static;letter-spacing:0">&nbsp;</span>€</span>
<span class="n" style="left:485px;top:422px;width:51.1px;text-align:right">50<span style="position:static;letter-spacing:0">&nbsp;</span>€</span>
<span class="n" style="left:541px;top:422px;width:51.1px;text-align:right">50<span style="position:static;letter-spacing:0">&nbsp;</span>€</span>
<span class="l" style="left:25.5px;top:437px;">Büromaterial</span>
<span class="n" style="left:261px;top:437px;width:51.1px;text-align:right">100<span style="position:static;letter-spacing:0">&nbsp;</span>€</span>
<span class="n" style="left:317px;top:437px;width:51.1px;text-align:right">40<span style="position:static;letter-spacing:0">&nbsp;</span>€</span>
<span class="n" style="left:373px;top:437px;width:51.1px;text-align:right">40<span style="position:static;letter-spacing:0">&nbsp;</span>€</span>
<span class="n" style="left:429px;top:437px;width:51.1px;text-align:right">40<span style="position:static;letter-spacing:0">&nbsp;</span>€</span>
<span class="n" style="left:485px;top:437px;width:51.1px;text-align:right">40<span style="position:static;letter-spacing:0">&nbsp;</span>€</span>
<span class="n" style="left:541px;top:437px;width:51.1px;text-align:right">40<span style="position:static;letter-spacing:0">&nbsp;</span>€</span>
<span class="l" style="left:25.5px;top:452px;">Fortbildung</span>
<span class="n" style="left:261px;top:452px;width:51.1px;text-align:right">€</span>
<span class="n" style="left:261px;top:452px;width:31px;text-align:right">-</span>
<span class="n" style="left:317px;top:452px;width:51.1px;text-align:right">€</span>
<span class="n" style="left:317px;top:452px;width:31px;text-align:right">-</span>
<span class="n" style="left:373px;top:452px;width:51.1px;text-align:right">€</span>
<span class="n" style="left:373px;top:452px;width:31px;text-align:right">-</span>
<span class="n" style="left:429px;top:452px;width:51.1px;text-align:right">€</span>
<span class="n" style="left:429px;top:452px;width:31px;text-align:right">-</span>
<span class="n" style="left:485px;top:452px;width:51.1px;text-align:right">€</span>
<span class="n" style="left:485px;top:452px;width:31px;text-align:right">-</span>
<span class="n" style="left:541px;top:452px;width:51.1px;text-align:right">€</span>
<span class="n" style="left:541px;top:452px;width:31px;text-align:right">-</span>
<span class="l" style="left:25.5px;top:467px;">Rechts-/Beratungskosten</span>
<span class="n" style="left:261px;top:467px;width:51.1px;text-align:right">500<span style="position:static;letter-spacing:0">&nbsp;</span>€</span>
<span class="n" style="left:317px;top:467px;width:51.1px;text-align:right">€</span>
<span class="n" style="left:317px;top:467px;width:31px;text-align:right">-</span>
<span class="n" style="left:373px;top:467px;width:51.1px;text-align:right">€</span>
<span class="n" style="left:373px;top:467px;width:31px;text-align:right">-</span>
<span class="n" style="left:429px;top:467px;width:51.1px;text-align:right">€</span>
<span class="n" style="left:429px;top:467px;width:31px;text-align:right">-</span>
<span class="n" style="left:485px;top:467px;width:51.1px;text-align:right">€</span>
<span class="n" style="left:485px;top:467px;width:31px;text-align:right">-</span>
<span class="n" style="left:541px;top:467px;width:51.1px;text-align:right">€</span>
<span class="n" style="left:541px;top:467px;width:31px;text-align:right">-</span>
<span class="l" style="left:25.5px;top:482px;">Zeitschriften, Fachliteratur</span>
<span class="n" style="left:261px;top:482px;width:51.1px;text-align:right">10<span style="position:static;letter-spacing:0">&nbsp;</span>€</span>
<span class="n" style="left:317px;top:482px;width:51.1px;text-align:right">10<span style="position:static;letter-spacing:0">&nbsp;</span>€</span>
<span class="n" style="left:373px;top:482px;width:51.1px;text-align:right">10<span style="position:static;letter-spacing:0">&nbsp;</span>€</span>
<span class="n" style="left:429px;top:482px;width:51.1px;text-align:right">10<span style="position:static;letter-spacing:0">&nbsp;</span>€</span>
<span class="n" style="left:485px;top:482px;width:51.1px;text-align:right">10<span style="position:static;letter-spacing:0">&nbsp;</span>€</span>
<span class="n" style="left:541px;top:482px;width:51.1px;text-align:right">10<span style="position:static;letter-spacing:0">&nbsp;</span>€</span>
<span class="l" style="left:25.5px;top:497px;">Nebenkosten Geldverkehr</span>
<span class="n" style="left:261px;top:497px;width:51.1px;text-align:right">10<span style="position:static;letter-spacing:0">&nbsp;</span>€</span>
<span class="n" style="left:317px;top:497px;width:51.1px;text-align:right">10<span style="position:static;letter-spacing:0">&nbsp;</span>€</span>
<span class="n" style="left:373px;top:497px;width:51.1px;text-align:right">10<span style="position:static;letter-spacing:0">&nbsp;</span>€</span>
<span class="n" style="left:429px;top:497px;width:51.1px;text-align:right">10<span style="position:static;letter-spacing:0">&nbsp;</span>€</span>
<span class="n" style="left:485px;top:497px;width:51.1px;text-align:right">10<span style="position:static;letter-spacing:0">&nbsp;</span>€</span>
<span class="n" style="left:541px;top:497px;width:51.1px;text-align:right">10<span style="position:static;letter-spacing:0">&nbsp;</span>€</span>
<span class="l" style="left:25.5px;top:512px;">Buchführung / Jahresabschluss</span>
<span class="n" style="left:261px;top:512px;width:51.1px;text-align:right">60<span style="position:static;letter-spacing:0">&nbsp;</span>€</span>
<span class="n" style="left:317px;top:512px;width:51.1px;text-align:right">60<span style="position:static;letter-spacing:0">&nbsp;</span>€</span>
<span class="n" style="left:373px;top:512px;width:51.1px;text-align:right">60<span style="position:static;letter-spacing:0">&nbsp;</span>€</span>
<span class="n" style="left:429px;top:512px;width:51.1px;text-align:right">60<span style="position:static;letter-spacing:0">&nbsp;</span>€</span>
<span class="n" style="left:485px;top:512px;width:51.1px;text-align:right">60<span style="position:static;letter-spacing:0">&nbsp;</span>€</span>
<span class="n" style="left:541px;top:512px;width:51.1px;text-align:right">60<span style="position:static;letter-spacing:0">&nbsp;</span>€</span>
<span class="l" style="left:25.5px;top:527px;">Sonstige Kosten</span>
<span class="n" style="left:261px;top:527px;width:51.1px;text-align:right">200<span style="position:static;letter-spacing:0">&nbsp;</span>€</span>
<span class="n" style="left:317px;top:527px;width:51.1px;text-align:right">€</span>
<span class="n" style="left:317px;top:527px;width:31px;text-align:right">-</span>
<span class="n" style="left:373px;top:527px;width:51.1px;text-align:right">€</span>
<span class="n" style="left:373px;top:527px;width:31px;text-align:right">-</span>
<span class="n" style="left:429px;top:527px;width:51.1px;text-align:right">€</span>
<span class="n" style="left:429px;top:527px;width:31px;text-align:right">-</span>
<span class="n" style="left:485px;top:527px;width:51.1px;text-align:right">€</span>
<span class="n" style="left:485px;top:527px;width:31px;text-align:right">-</span>
<span class="n" style="left:541px;top:527px;width:51.1px;text-align:right">€</span>
<span class="n" style="left:541px;top:527px;width:31px;text-align:right">-</span>
<span class="l" style="left:25.5px;top:542px;">...</span>
<span class="n" style="left:261px;top:542px;width:51.1px;text-align:right">€</span>
<span class="n" style="left:261px;top:542px;width:31px;text-align:right">-</span>
<span class="n" style="left:317px;top:542px;width:51.1px;text-align:right">€</span>
<span class="n" style="left:317px;top:542px;width:31px;text-align:right">-</span>
<span class="n" style="left:373px;top:542px;width:51.1px;text-align:right">€</span>
<span class="n" style="left:373px;top:542px;width:31px;text-align:right">-</span>
<span class="n" style="left:429px;top:542px;width:51.1px;text-align:right">€</span>
<span class="n" style="left:429px;top:542px;width:31px;text-align:right">-</span>
<span class="n" style="left:485px;top:542px;width:51.1px;text-align:right">€</span>
<span class="n" style="left:485px;top:542px;width:31px;text-align:right">-</span>
<span class="n" style="left:541px;top:542px;width:51.1px;text-align:right">€</span>
<span class="n" style="left:541px;top:542px;width:31px;text-align:right">-</span>
<span class="l" style="left:25.5px;top:557px;">...</span>
<span class="n" style="left:261px;top:557px;width:51.1px;text-align:right">€</span>
<span class="n" style="left:261px;top:557px;width:31px;text-align:right">-</span>
<span class="n" style="left:317px;top:557px;width:51.1px;text-align:right">€</span>
<span class="n" style="left:317px;top:557px;width:31px;text-align:right">-</span>
<span class="n" style="left:373px;top:557px;width:51.1px;text-align:right">€</span>
<span class="n" style="left:373px;top:557px;width:31px;text-align:right">-</span>
<span class="n" style="left:429px;top:557px;width:51.1px;text-align:right">€</span>
<span class="n" style="left:429px;top:557px;width:31px;text-align:right">-</span>
<span class="n" style="left:485px;top:557px;width:51.1px;text-align:right">€</span>
<span class="n" style="left:485px;top:557px;width:31px;text-align:right">-</span>
<span class="n" style="left:541px;top:557px;width:51.1px;text-align:right">€</span>
<span class="n" style="left:541px;top:557px;width:31px;text-align:right">-</span>
<span class="l" style="left:25.5px;top:572px;">...</span>
<span class="n" style="left:261px;top:572px;width:51.1px;text-align:right">€</span>
<span class="n" style="left:261px;top:572px;width:31px;text-align:right">-</span>
<span class="n" style="left:317px;top:572px;width:51.1px;text-align:right">€</span>
<span class="n" style="left:317px;top:572px;width:31px;text-align:right">-</span>
<span class="n" style="left:373px;top:572px;width:51.1px;text-align:right">€</span>
<span class="n" style="left:373px;top:572px;width:31px;text-align:right">-</span>
<span class="n" style="left:429px;top:572px;width:51.1px;text-align:right">€</span>
<span class="n" style="left:429px;top:572px;width:31px;text-align:right">-</span>
<span class="n" style="left:485px;top:572px;width:51.1px;text-align:right">€</span>
<span class="n" style="left:485px;top:572px;width:31px;text-align:right">-</span>
<span class="n" style="left:541px;top:572px;width:51.1px;text-align:right">€</span>
<span class="n" style="left:541px;top:572px;width:31px;text-align:right">-</span>
<span class="l b" style="left:25.5px;top:587px;">erweiterter operativer Cash flow</span>
<span class="n b" style="left:261px;top:587px;width:51.1px;text-align:right">1.110<span style="position:static;letter-spacing:0">&nbsp;</span>€</span>
<span class="n b" style="left:317px;top:587px;width:51.1px;text-align:right">4.090<span style="position:static;letter-spacing:0">&nbsp;</span>€</span>
<span class="n b" style="left:373px;top:587px;width:51.1px;text-align:right">4.170<span style="position:static;letter-spacing:0">&nbsp;</span>€</span>
<span class="n b" style="left:429px;top:587px;width:51.1px;text-align:right">1.370<span style="position:static;letter-spacing:0">&nbsp;</span>€</span>
<span class="n b" style="left:485px;top:587px;width:51.1px;text-align:right">260<span style="position:static;letter-spacing:0">&nbsp;</span>€</span>
<span class="n b" style="left:488px;top:587px">-</span>
<span class="n b" style="left:541px;top:587px;width:51.1px;text-align:right">1.770<span style="position:static;letter-spacing:0">&nbsp;</span>€</span>
<span class="l" style="left:25.5px;top:617px;">Zinsaufwand</span>
<span class="n" style="left:261px;top:617px;width:51.1px;text-align:right">€</span>
<span class="n" style="left:261px;top:617px;width:31px;text-align:right">-</span>
<span class="n" style="left:317px;top:617px;width:51.1px;text-align:right">€</span>
<span class="n" style="left:317px;top:617px;width:31px;text-align:right">-</span>
<span class="n" style="left:373px;top:617px;width:51.1px;text-align:right">50<span style="position:static;letter-spacing:0">&nbsp;</span>€</span>
<span class="n" style="left:429px;top:617px;width:51.1px;text-align:right">€</span>
<span class="n" style="left:429px;top:617px;width:31px;text-align:right">-</span>
<span class="n" style="left:485px;top:617px;width:51.1px;text-align:right">20<span style="position:static;letter-spacing:0">&nbsp;</span>€</span>
<span class="n" style="left:541px;top:617px;width:51.1px;text-align:right">€</span>
<span class="n" style="left:541px;top:617px;width:31px;text-align:right">-</span>
<span class="l b" style="left:25.5px;top:632px;">operativer Cash flow</span>
<span class="n b" style="left:261px;top:632px;width:51.1px;text-align:right">1.110<span style="position:static;letter-spacing:0">&nbsp;</span>€</span>
<span class="n b" style="left:317px;top:632px;width:51.1px;text-align:right">4.090<span style="position:static;letter-spacing:0">&nbsp;</span>€</span>
<span class="n b" style="left:373px;top:632px;width:51.1px;text-align:right">4.120<span style="position:static;letter-spacing:0">&nbsp;</span>€</span>
<span class="n b" style="left:429px;top:632px;width:51.1px;text-align:right">1.370<span style="position:static;letter-spacing:0">&nbsp;</span>€</span>
<span class="n b" style="left:485px;top:632px;width:51.1px;text-align:right">280<span style="position:static;letter-spacing:0">&nbsp;</span>€</span>
<span class="n b" style="left:488px;top:632px">-</span>
<span class="n b" style="left:541px;top:632px;width:51.1px;text-align:right">1.770<span style="position:static;letter-spacing:0">&nbsp;</span>€</span>
<span class="l" style="left:25.5px;top:662px;">Abschreibungen</span>
<span class="n" style="left:261px;top:662px;width:51.1px;text-align:right">400<span style="position:static;letter-spacing:0">&nbsp;</span>€</span>
<span class="n" style="left:317px;top:662px;width:51.1px;text-align:right">400<span style="position:static;letter-spacing:0">&nbsp;</span>€</span>
<span class="n" style="left:373px;top:662px;width:51.1px;text-align:right">400<span style="position:static;letter-spacing:0">&nbsp;</span>€</span>
<span class="n" style="left:429px;top:662px;width:51.1px;text-align:right">400<span style="position:static;letter-spacing:0">&nbsp;</span>€</span>
<span class="n" style="left:485px;top:662px;width:51.1px;text-align:right">400<span style="position:static;letter-spacing:0">&nbsp;</span>€</span>
<span class="n" style="left:541px;top:662px;width:51.1px;text-align:right">400<span style="position:static;letter-spacing:0">&nbsp;</span>€</span>
<span class="l b" style="left:25.5px;top:677px;">operatives Ergebnis vor Steuer</span>
<span class="n b" style="left:261px;top:677px;width:51.1px;text-align:right">710<span style="position:static;letter-spacing:0">&nbsp;</span>€</span>
<span class="n b" style="left:317px;top:677px;width:51.1px;text-align:right">3.690<span style="position:static;letter-spacing:0">&nbsp;</span>€</span>
<span class="n b" style="left:373px;top:677px;width:51.1px;text-align:right">3.720<span style="position:static;letter-spacing:0">&nbsp;</span>€</span>
<span class="n b" style="left:429px;top:677px;width:51.1px;text-align:right">970<span style="position:static;letter-spacing:0">&nbsp;</span>€</span>
<span class="n b" style="left:485px;top:677px;width:51.1px;text-align:right">680<span style="position:static;letter-spacing:0">&nbsp;</span>€</span>
<span class="n b" style="left:488px;top:677px">-</span>
<span class="n b" style="left:541px;top:677px;width:51.1px;text-align:right">1.370<span style="position:static;letter-spacing:0">&nbsp;</span>€</span>
<span class="l" style="left:25.5px;top:707px;">Außergewöhnlicher Ertrag</span>
<span class="n" style="left:261px;top:707px;width:51.1px;text-align:right">€</span>
<span class="n" style="left:261px;top:707px;width:31px;text-align:right">-</span>
<span class="n" style="left:317px;top:707px;width:51.1px;text-align:right">€</span>
<span class="n" style="left:317px;top:707px;width:31px;text-align:right">-</span>
<span class="n" style="left:373px;top:707px;width:51.1px;text-align:right">€</span>
<span class="n" style="left:373px;top:707px;width:31px;text-align:right">-</span>
<span class="n" style="left:429px;top:707px;width:51.1px;text-align:right">€</span>
<span class="n" style="left:429px;top:707px;width:31px;text-align:right">-</span>
<span class="n" style="left:485px;top:707px;width:51.1px;text-align:right">€</span>
<span class="n" style="left:485px;top:707px;width:31px;text-align:right">-</span>
<span class="n" style="left:541px;top:707px;width:51.1px;text-align:right">€</span>
<span class="n" style="left:541px;top:707px;width:31px;text-align:right">-</span>
<span class="l" style="left:25.5px;top:722px;">Außergewöhnlicher Aufwand</span>
<span class="n" style="left:261px;top:722px;width:51.1px;text-align:right">€</span>
<span class="n" style="left:261px;top:722px;width:31px;text-align:right">-</span>
<span class="n" style="left:317px;top:722px;width:51.1px;text-align:right">€</span>
<span class="n" style="left:317px;top:722px;width:31px;text-align:right">-</span>
<span class="n" style="left:373px;top:722px;width:51.1px;text-align:right">€</span>
<span class="n" style="left:373px;top:722px;width:31px;text-align:right">-</span>
<span class="n" style="left:429px;top:722px;width:51.1px;text-align:right">€</span>
<span class="n" style="left:429px;top:722px;width:31px;text-align:right">-</span>
<span class="n" style="left:485px;top:722px;width:51.1px;text-align:right">€</span>
<span class="n" style="left:485px;top:722px;width:31px;text-align:right">-</span>
<span class="n" style="left:541px;top:722px;width:51.1px;text-align:right">€</span>
<span class="n" style="left:541px;top:722px;width:31px;text-align:right">-</span>
<span class="l b" style="left:25.5px;top:737px;">Ergebnis vor Steuer</span>
<span class="n b" style="left:261px;top:737px;width:51.1px;text-align:right">710<span style="position:static;letter-spacing:0">&nbsp;</span>€</span>
<span class="n b" style="left:317px;top:737px;width:51.1px;text-align:right">3.690<span style="position:static;letter-spacing:0">&nbsp;</span>€</span>
<span class="n b" style="left:373px;top:737px;width:51.1px;text-align:right">3.720<span style="position:static;letter-spacing:0">&nbsp;</span>€</span>
<span class="n b" style="left:429px;top:737px;width:51.1px;text-align:right">970<span style="position:static;letter-spacing:0">&nbsp;</span>€</span>
<span class="n b" style="left:485px;top:737px;width:51.1px;text-align:right">680<span style="position:static;letter-spacing:0">&nbsp;</span>€</span>
<span class="n b" style="left:488px;top:737px">-</span>
<span class="n b" style="left:541px;top:737px;width:51.1px;text-align:right">1.370<span style="position:static;letter-spacing:0">&nbsp;</span>€</span>
<span class="l" style="left:25.5px;top:767px;">Steuern vom Einkommen und Ertrag</span>
<span class="n" style="left:261px;top:767px;width:51.1px;text-align:right">€</span>
<span class="n" style="left:261px;top:767px;width:31px;text-align:right">-</span>
<span class="n" style="left:317px;top:767px;width:51.1px;text-align:right">€</span>
<span class="n" style="left:317px;top:767px;width:31px;text-align:right">-</span>
<span class="n" style="left:373px;top:767px;width:51.1px;text-align:right">€</span>
<span class="n" style="left:373px;top:767px;width:31px;text-align:right">-</span>
<span class="n" style="left:429px;top:767px;width:51.1px;text-align:right">€</span>
<span class="n" style="left:429px;top:767px;width:31px;text-align:right">-</span>
<span class="n" style="left:485px;top:767px;width:51.1px;text-align:right">€</span>
<span class="n" style="left:485px;top:767px;width:31px;text-align:right">-</span>
<span class="n" style="left:541px;top:767px;width:51.1px;text-align:right">€</span>
<span class="n" style="left:541px;top:767px;width:31px;text-align:right">-</span>
<span class="l b" style="left:25.5px;top:782px;">Ergebnis nach Steuer</span>
<span class="n b" style="left:261px;top:782px;width:51.1px;text-align:right">710<span style="position:static;letter-spacing:0">&nbsp;</span>€</span>
<span class="n b" style="left:317px;top:782px;width:51.1px;text-align:right">3.690<span style="position:static;letter-spacing:0">&nbsp;</span>€</span>
<span class="n b" style="left:373px;top:782px;width:51.1px;text-align:right">3.720<span style="position:static;letter-spacing:0">&nbsp;</span>€</span>
<span class="n b" style="left:429px;top:782px;width:51.1px;text-align:right">970<span style="position:static;letter-spacing:0">&nbsp;</span>€</span>
<span class="n b" style="left:485px;top:782px;width:51.1px;text-align:right">680<span style="position:static;letter-spacing:0">&nbsp;</span>€</span>
<span class="n b" style="left:488px;top:782px">-</span>
<span class="n b" style="left:541px;top:782px;width:51.1px;text-align:right">1.370<span style="position:static;letter-spacing:0">&nbsp;</span>€</span>
<svg style="position:absolute;left:262px;top:91px" width="6" height="6"><polygon points="0,0 5,0 0,5" fill="#008000"/></svg>
<svg style="position:absolute;left:318px;top:91px" width="6" height="6"><polygon points="0,0 5,0 0,5" fill="#008000"/></svg>
<svg style="position:absolute;left:374px;top:91px" width="6" height="6"><polygon points="0,0 5,0 0,5" fill="#008000"/></svg>
<svg style="position:absolute;left:430px;top:91px" width="6" height="6"><polygon points="0,0 5,0 0,5" fill="#008000"/></svg>
<svg style="position:absolute;left:486px;top:91px" width="6" height="6"><polygon points="0,0 5,0 0,5" fill="#008000"/></svg>
<svg style="position:absolute;left:542px;top:91px" width="6" height="6"><polygon points="0,0 5,0 0,5" fill="#008000"/></svg>
<div style="left:925px;top:359px;width:51px;height:2px;background:#217346;"></div>
<div style="left:925px;top:359px;width:2px;height:18px;background:#217346;"></div>
<div style="left:925px;top:375px;width:47px;height:2px;background:#217346;"></div>
<div style="left:974px;top:359px;width:2px;height:14px;background:#217346;"></div>
<div style="left:972px;top:373px;width:5px;height:5px;background:#217346;outline:1px solid #fff"></div>
<span style="left:41px;top:789px;font-size:9px;line-height:12px;color:#d8d8d8">blog</span>
<div style="left:0px;top:810px;width:1023px;height:30px;background:#f3f3f3;"></div>
<div style="left:0px;top:838px;width:1023px;height:2px;background:#d6d6d6;"></div>
<div style="left:0px;top:810px;width:1023px;height:1px;background:#d9d9d9;"></div>
<div style="left:0px;top:812px;width:1023px;height:1px;background:#c6c6c6;"></div>
<div style="left:206px;top:812px;width:113px;height:26px;background:#f4f4f4;"></div>
<div style="left:206px;top:812px;width:1px;height:24px;background:#a6a6a6;"></div>
<div style="left:318px;top:812px;width:1px;height:24px;background:#a6a6a6;"></div>
<div style="left:206px;top:835px;width:113px;height:2px;background:#217346;"></div>
<div style="left:100px;top:816px;width:1px;height:20px;background:#c6c6c6;"></div>
<span class="tab" style="left:113px;top:815px;">3 Jahres-Plan</span>
<span class="tab act" style="left:218px;top:815px;">6 Monats-Plan</span>
<svg style="position:absolute;left:24px;top:820px" width="40" height="12"><polygon points="7,2 7,10 3,6" fill="#bdbdbd"/><polygon points="32,2 32,10 36,6" fill="#bdbdbd"/></svg>
<svg style="position:absolute;left:350px;top:816px" width="20" height="20"><circle cx="10" cy="10" r="7.5" fill="none" stroke="#6a6a6a" stroke-width="1.3"/><path d="M10 6 V14 M6 10 H14" stroke="#6a6a6a" stroke-width="1.6"/></svg>
<svg style="position:absolute;left:862px;top:820px" width="6" height="12"><rect x="2" y="1" width="2" height="2" fill="#999"/><rect x="2" y="5" width="2" height="2" fill="#999"/><rect x="2" y="9" width="2" height="2" fill="#999"/></svg>
<div style="left:881px;top:819px;width:150px;height:15px;background:#f3f3f3;box-sizing:border-box;border:1px solid #bfbfbf"></div>
<div style="left:896px;top:819px;width:2px;height:15px;background:#b0b0b0;"></div>
<svg style="position:absolute;left:883px;top:821px" width="10" height="11"><polygon points="7,1.5 7,9.5 3,5.5" fill="#606060"/></svg>
<div style="left:1022px;top:0px;width:1px;height:840px;background:#c4c4c4;"></div>
<div style="left:0px;top:810px;width:1px;height:30px;background:#cfcfcf;"></div>
</body></html>
